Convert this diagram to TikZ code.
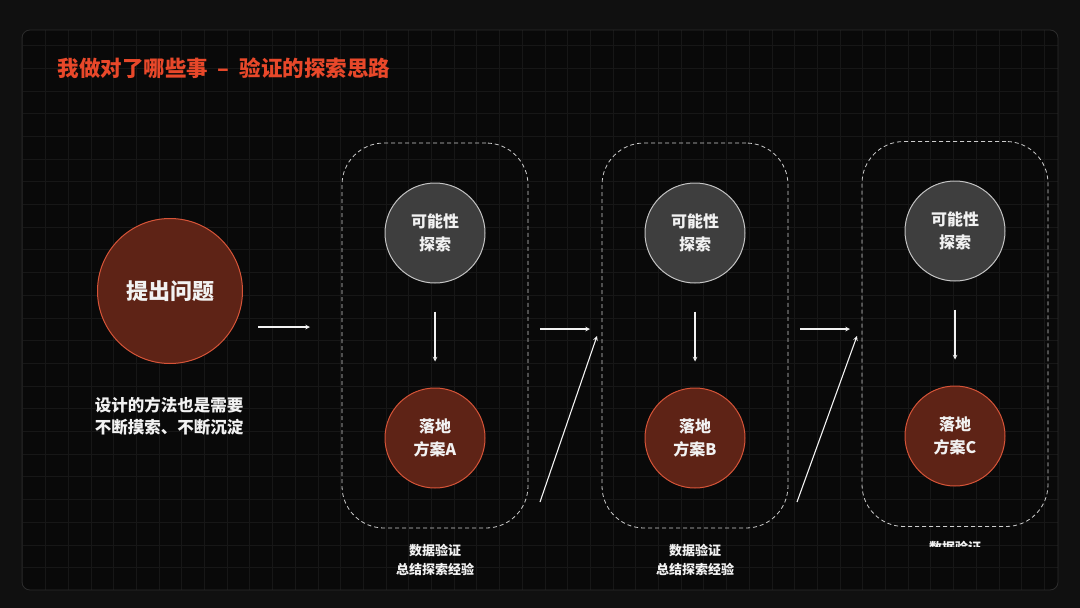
\documentclass[tikz,border=0pt]{standalone}
\usepackage{xcolor}
\usepackage{tikz}
\usepackage{fontspec}
\setmainfont{Noto Sans CJK SC}
\definecolor{bgdark}{RGB}{16,16,16}
\definecolor{paneldark}{RGB}{9,9,9}
\definecolor{panelline}{RGB}{44,44,44}
\definecolor{gridgray}{RGB}{23,23,23}
\definecolor{titlered}{RGB}{232,72,42}
\definecolor{brick}{RGB}{94,35,22}
\definecolor{brickline}{RGB}{214,84,56}
\definecolor{stonegray}{RGB}{62,62,62}
\definecolor{ashline}{RGB}{196,196,196}
\definecolor{dashgray}{RGB}{205,205,205}
\definecolor{softwhite}{RGB}{242,242,242}
\usetikzlibrary{positioning,calc}

\begin{document}
\begin{tikzpicture}[
    x=1pt, y=-1pt,
    flow/.style={->, >=stealth, line width=1.1pt, softwhite},
    group/.style={draw=dashgray, dash pattern=on 4pt off 3pt, line width=0.8pt, rounded corners=42pt, minimum width=186pt, minimum height=385pt},
    idea/.style={circle, draw=ashline, fill=stonegray, line width=1pt, minimum size=100pt, text=softwhite, align=center, font=\bfseries\fontsize{16}{23}\selectfont},
    plan/.style={idea, draw=brickline, fill=brick},
    note/.style={text=softwhite, align=center, font=\bfseries\fontsize{13}{19}\selectfont}
]
    % Background and panel
    \useasboundingbox (0,0) rectangle (1080,608);
    \fill[bgdark] (0,0) rectangle (1080,608);
    \fill[paneldark, rounded corners=8pt] (22,30) rectangle (1058,590);
    \begin{scope}
        \clip[rounded corners=8pt] (22,30) rectangle (1058,590);
        \draw[gridgray, line width=0.6pt, step=22.7pt] (0,0) grid (1080,608);
    \end{scope}
    \draw[panelline, line width=0.8pt, rounded corners=8pt] (22,30) rectangle (1058,590);

    % Title
    \node[anchor=west, text=titlered, font=\bfseries\fontsize{21.5}{25}\selectfont] (title) at (54,68) {我做对了哪些事\ \ –\ \ 验证的探索思路};

    % Question
    \node[circle, draw=brickline, fill=brick, line width=1pt, minimum size=145pt, text=softwhite, font=\bfseries\fontsize{22}{26}\selectfont] (ask) at (170,291) {提出问题};
    \node[note, font=\bfseries\fontsize{16.5}{22}\selectfont] (askNote) at (169,416) {设计的方法也是需要\\不断摸索、不断沉淀};

    % Groups
    \node[group] (boxA) at (435,335.5) {};
    \node[group] (boxB) at (695,335.5) {};
    \node[group] (boxC) at (955,334) {};

    \node[idea] (tryA) at (435,233) {可能性\\探索};
    \node[idea] (tryB) at (695,233) {可能性\\探索};
    \node[idea] (tryC) at (955,231) {可能性\\探索};

    \node[plan] (planA) at (435,438) {落地\\方案A};
    \node[plan] (planB) at (695,438) {落地\\方案B};
    \node[plan] (planC) at (955,436) {落地\\方案C};

    \node[note] (noteA) at (435,560) {数据验证\\总结探索经验};
    \node[note] (noteB) at (695,560) {数据验证\\总结探索经验};
    \begin{scope}
        \clip (900,532) rectangle (1010,546);
        \node[note] (noteC) at (955,548) {数据验证};
    \end{scope}

    % Flow
    \draw[flow, shorten <=28pt, shorten >=26pt] (tryA) -- (planA);
    \draw[flow, shorten <=28pt, shorten >=26pt] (tryB) -- (planB);
    \draw[flow, shorten <=28pt, shorten >=26pt] (tryC) -- (planC);

    \coordinate (go0) at (258,327);  \coordinate (in0) at (310,327);
    \coordinate (go1) at (540,329);  \coordinate (in1) at (590,329);
    \coordinate (up1) at (540,502);  \coordinate (top1) at (597,336);
    \coordinate (go2) at (800,329);  \coordinate (in2) at (850,329);
    \coordinate (up2) at (797,502);  \coordinate (top2) at (857,336);

    \draw[flow] (go0) -- (in0);
    \draw[flow] (go1) -- (in1);
    \draw[flow] (up1) -- (top1);
    \draw[flow] (go2) -- (in2);
    \draw[flow] (up2) -- (top2);
\end{tikzpicture}
\end{document}
